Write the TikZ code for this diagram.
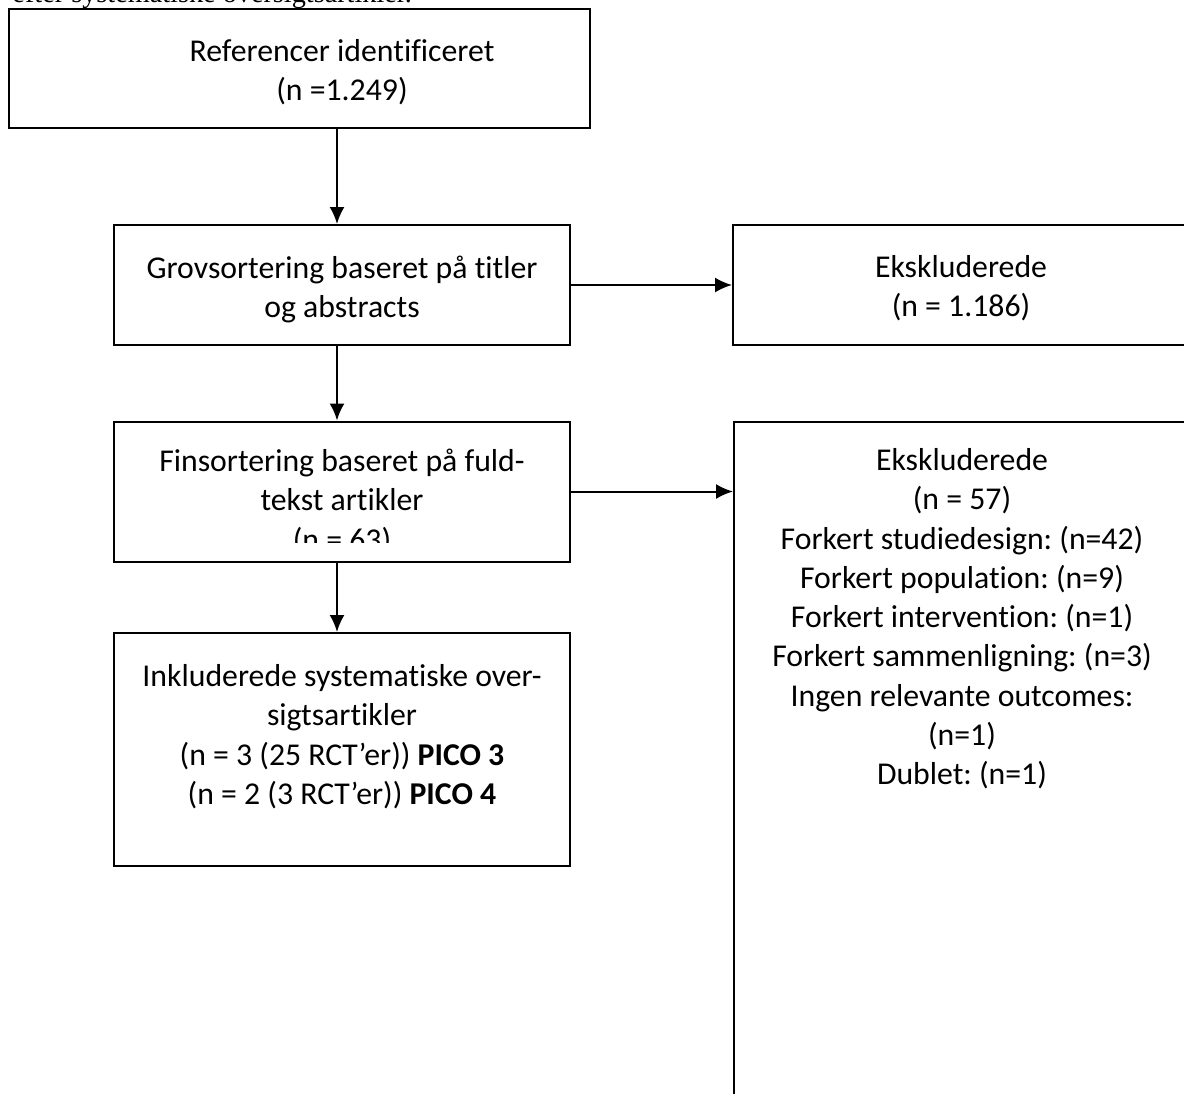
\documentclass[tikz,border=0pt]{standalone}
\usepackage{fontspec}
\setmainfont{Carlito}[Ligatures={NoCommon,NoContextual}]
\newfontfamily\headserif{Liberation Serif}
\usetikzlibrary{arrows.meta,positioning}
\frenchspacing

\begin{document}
\begin{tikzpicture}[x=0.4pt, y=-0.4pt,
    block/.style={rectangle, draw, line width=0.8pt, inner sep=0pt, minimum width=182.4pt, minimum height=48pt},
    txt/.style={align=center, inner sep=0pt, font=\fontsize{12.7}{15.7}\selectfont},
    line/.style={draw, line width=0.8pt, -{Latex[length=6.8pt, width=6pt]}}]

    \useasboundingbox (0,0) rectangle (1184,1093);

    % overskrift, kun nederste del ses
    \node [anchor=base west, inner sep=0pt, font=\headserif\fontsize{11.3}{14}\selectfont] (head) at (12,2.5) {efter systematiske oversigtsartikler.};

    \node [block, minimum width=232.4pt, minimum height=47.6pt] (ref) at (299.5,68.5) {};

    \node [block] (grov) at (342,285) {};
    \node [txt, below=12.4pt of grov.north] (grovtxt) {Grovsortering baseret på titler\\og abstracts};

    \node [txt, anchor=north] (reftxt) at ([yshift=-12.4pt]ref.north -| grov.north) {Referencer identificeret\\(n =1.249)};

    \node [block] (eks1) at (961,285) {};
    \node [txt, below=12.4pt of eks1.north] (eks1txt) {Ekskluderede\\(n = 1.186)};

    \node [block, minimum height=56pt] (fin) at (342,491.5) {};
    \begin{scope}
        \clip (fin.north west) rectangle ([yshift=8pt]fin.south east);
        \node [txt, below=11.2pt of fin.north] (fintxt) {Finsortering baseret på fuld-\\tekst artikler\\(n = 63)};
    \end{scope}

    \node [block, minimum height=280pt, anchor=north west] (eks2) at (733,421) {};
    \node [txt, below=10.8pt of eks2.north] (eks2txt) {Ekskluderede\\(n = 57)\\Forkert studiedesign: (n=42)\\Forkert population: (n=9)\\Forkert intervention: (n=1)\\Forkert sammenligning: (n=3)\\Ingen relevante outcomes:\\(n=1)\\Dublet: (n=1)};

    \node [block, minimum height=93.2pt] (inkl) at (342,749.5) {};
    \node [txt, below=12.8pt of inkl.north] (inkltxt) {Inkluderede systematiske over-\\sigtsartikler\\(n = 3 (25 RCT’er)) \textbf{PICO 3}\\(n = 2 (3 RCT’er)) \textbf{PICO 4}};

    \path [line] ([xshift=-2pt]ref.south -| grov.north) -- ([xshift=-2pt]grov.north);
    \path [line] ([xshift=-2pt]grov.south) -- ([xshift=-2pt]fin.north);
    \path [line] ([xshift=-2pt]fin.south) -- ([xshift=-2pt]inkl.north);
    \path [line] (grov.east) -- (eks1.west);
    \path [line] (fin.east) -- (fin.east -| eks2.west);
\end{tikzpicture}
\end{document}
